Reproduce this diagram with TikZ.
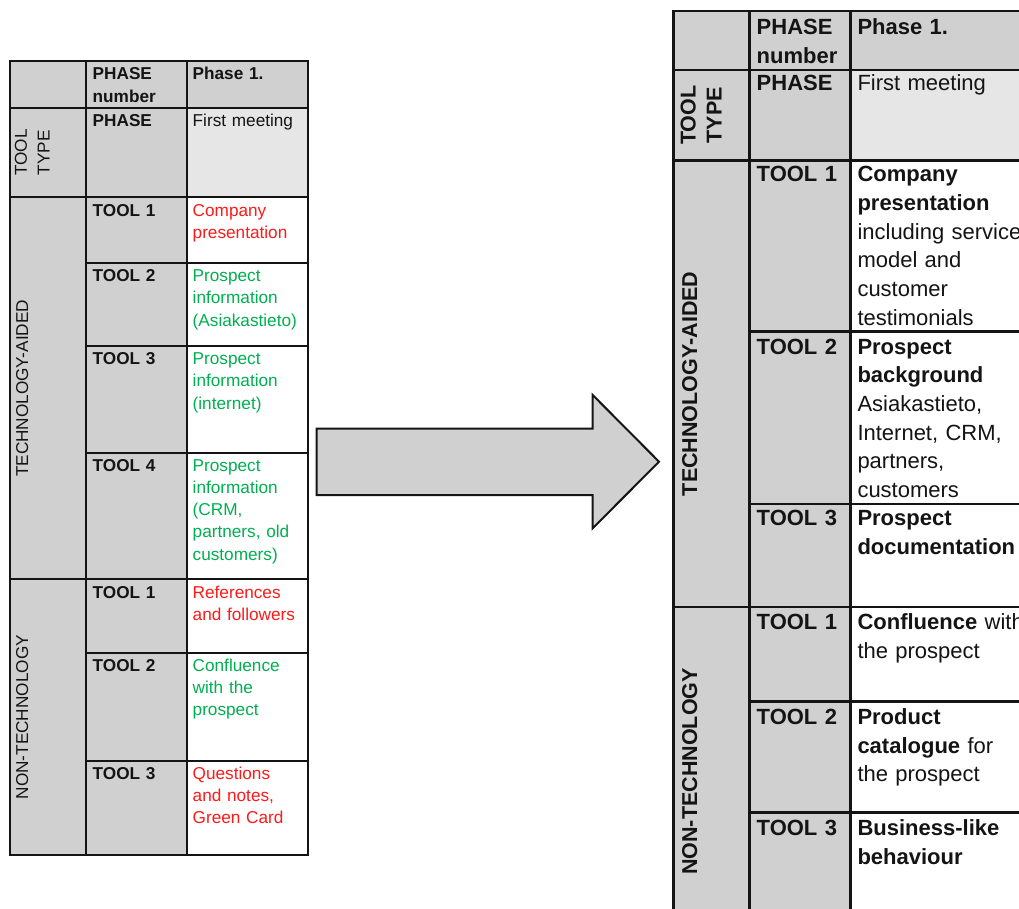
\documentclass[tikz,border=0pt]{standalone}
\usepackage{fontspec}
\setmainfont{Liberation Sans}
\definecolor{cellgray}{HTML}{D0D0D0}
\definecolor{phasegray}{HTML}{E6E6E6}
\definecolor{txtred}{HTML}{FF1A1A}
\definecolor{txtgreen}{HTML}{00B050}
\definecolor{ink}{HTML}{141414}

\begin{document}
\begin{tikzpicture}[x=1pt,y=-1pt,
  smallrule/.style={draw=ink, line width=2pt},
  bigrule/.style={draw=ink, line width=2.6pt},
  smalltxt/.style={anchor=base west, inner sep=0pt, text width=300pt, align=left,
    text=ink, font=\fontsize{17.2}{22.3}\selectfont},
  bigtxt/.style={anchor=base west, inner sep=0pt, text width=300pt, align=left,
    text=ink, font=\fontsize{22}{28.7}\selectfont},
  smallside/.style={rotate=90, anchor=base, inner sep=0pt, text width=250pt, align=center,
    text=ink, font=\fontsize{17.2}{22.7}\selectfont},
  bigside/.style={rotate=90, anchor=base, inner sep=0pt, text width=300pt, align=center,
    text=ink, font=\bfseries\fontsize{21.5}{26}\selectfont},
  red/.style={text=txtred},
  green/.style={text=txtgreen},
  blockarrow/.style={draw=ink, line width=2pt, fill=cellgray, line join=miter}
]
\useasboundingbox (0,0) rectangle (1019,909);
\clip (0,0) rectangle (1019,909);

% ---------- small table ----------
\fill[cellgray] (10,61) rectangle (307.5,855);
\fill[phasegray] (187,108) rectangle (307.5,197.5);
\fill[white] (187,197.5) rectangle (307.5,855);
\draw[smallrule] (10,61) rectangle (307.5,855);
\draw[smallrule] (86,61) -- (86,855);
\draw[smallrule] (187,61) -- (187,855);
\draw[smallrule] (10,108) -- (307.5,108);
\draw[smallrule] (10,197.5) -- (307.5,197.5);
\draw[smallrule] (86,263) -- (307.5,263);
\draw[smallrule] (86,346) -- (307.5,346);
\draw[smallrule] (86,452.5) -- (307.5,452.5);
\draw[smallrule] (10,579.3) -- (307.5,579.3);
\draw[smallrule] (86,652.7) -- (307.5,652.7);
\draw[smallrule] (86,760.5) -- (307.5,760.5);

\node[smalltxt, font=\bfseries\fontsize{17.2}{22.3}\selectfont] (sPhaseNo) at (92.5,80) {PHASE\\number};
\node[smalltxt, font=\bfseries\fontsize{17.2}{22.3}\selectfont] (sPhaseOne) at (192.5,80) {Phase 1.};
\node[smalltxt, font=\bfseries\fontsize{17.2}{22.3}\selectfont] (sPhase) at (92.5,126.5) {PHASE};
\node[smalltxt] (sMeeting) at (192.5,126.5) {First meeting};

\node[smallside] (sToolType) at (27,152.7) {TOOL\\TYPE};
\node[smallside] (sTech) at (28,388.4) {TECHNOLOGY-AIDED};
\node[smallside] (sNonTech) at (28,717.2) {NON-TECHNOLOGY};

\node[smalltxt, font=\bfseries\fontsize{17.2}{22.3}\selectfont] (sT1) at (92.5,216.5) {TOOL 1};
\node[smalltxt, font=\bfseries\fontsize{17.2}{22.3}\selectfont] (sT2) at (92.5,281.5) {TOOL 2};
\node[smalltxt, font=\bfseries\fontsize{17.2}{22.3}\selectfont] (sT3) at (92.5,364.5) {TOOL 3};
\node[smalltxt, font=\bfseries\fontsize{17.2}{22.3}\selectfont] (sT4) at (92.5,471) {TOOL 4};
\node[smalltxt, font=\bfseries\fontsize{17.2}{22.3}\selectfont] (sN1) at (92.5,598) {TOOL 1};
\node[smalltxt, font=\bfseries\fontsize{17.2}{22.3}\selectfont] (sN2) at (92.5,671) {TOOL 2};
\node[smalltxt, font=\bfseries\fontsize{17.2}{22.3}\selectfont] (sN3) at (92.5,779) {TOOL 3};

\node[smalltxt, red] (sT1txt) at (192.5,216.5) {Company\\presentation};
\node[smalltxt, green] (sT2txt) at (192.5,281.5) {Prospect\\information\\(Asiakastieto)};
\node[smalltxt, green] (sT3txt) at (192.5,364.5) {Prospect\\information\\(internet)};
\node[smalltxt, green] (sT4txt) at (192.5,471) {Prospect\\information\\(CRM,\\partners, old\\customers)};
\node[smalltxt, red] (sN1txt) at (192.5,598) {References\\and followers};
\node[smalltxt, green] (sN2txt) at (192.5,671) {Confluence\\with the\\prospect};
\node[smalltxt, red] (sN3txt) at (192.5,779) {Questions\\and notes,\\Green Card};

% ---------- block arrow ----------
\draw[blockarrow] (316.7,428.7) -- (592.7,428.7) -- (592.7,395) -- (659,461.7)
  -- (592.7,528.3) -- (592.7,495) -- (316.7,495) -- cycle;

% ---------- large table ----------
\fill[cellgray] (673.3,11) rectangle (1120,936);
\fill[phasegray] (850.7,70) rectangle (1120,160.7);
\fill[white] (850.7,160.7) rectangle (1120,936);
\draw[bigrule] (673.3,11) rectangle (1120,936);
\draw[bigrule] (749.3,11) -- (749.3,936);
\draw[bigrule] (850.7,11) -- (850.7,936);
\draw[bigrule] (673.3,70) -- (1120,70);
\draw[bigrule] (673.3,160.7) -- (1120,160.7);
\draw[bigrule] (749.3,331.7) -- (1120,331.7);
\draw[bigrule] (749.3,504) -- (1120,504);
\draw[bigrule] (673.3,607) -- (1120,607);
\draw[bigrule] (749.3,701.7) -- (1120,701.7);
\draw[bigrule] (749.3,812.3) -- (1120,812.3);

\node[bigtxt, font=\bfseries\fontsize{22}{29}\selectfont] (bPhaseNo) at (756.5,34.3) {PHASE\\number};
\node[bigtxt, font=\bfseries\fontsize{22}{29}\selectfont] (bPhaseOne) at (857.3,34.3) {Phase 1.};
\node[bigtxt, font=\bfseries\fontsize{22}{29}\selectfont] (bPhase) at (756.5,91) {PHASE};
\node[bigtxt] (bMeeting) at (857.3,91) {First meeting};

\node[bigside] (bToolType) at (695.7,115.3) {TOOL\\TYPE};
\node[bigside] (bTech) at (697,383.8) {TECHNOLOGY-AIDED};
\node[bigside] (bNonTech) at (697,771.5) {NON-TECHNOLOGY};

\node[bigtxt, font=\bfseries\fontsize{22}{28.7}\selectfont] (bT1) at (756.5,181.7) {TOOL 1};
\node[bigtxt, font=\bfseries\fontsize{22}{28.7}\selectfont] (bT2) at (756.5,354) {TOOL 2};
\node[bigtxt, font=\bfseries\fontsize{22}{28.7}\selectfont] (bT3) at (756.5,525.5) {TOOL 3};
\node[bigtxt, font=\bfseries\fontsize{22}{28.7}\selectfont] (bN1) at (756.5,629.5) {TOOL 1};
\node[bigtxt, font=\bfseries\fontsize{22}{28.7}\selectfont] (bN2) at (756.5,724.5) {TOOL 2};
\node[bigtxt, font=\bfseries\fontsize{22}{28.7}\selectfont] (bN3) at (756.5,835.5) {TOOL 3};

\node[bigtxt] (bT1txt) at (857.3,181.7)
  {\textbf{Company}\\\textbf{presentation}\\including service\\model and\\customer\\testimonials};
\node[bigtxt] (bT2txt) at (857.3,354)
  {\textbf{Prospect}\\\textbf{background}\\Asiakastieto,\\Internet, CRM,\\partners,\\customers};
\node[bigtxt] (bT3txt) at (857.3,525.5) {\textbf{Prospect}\\\textbf{documentation}};
\node[bigtxt] (bN1txt) at (857.3,629.5) {\textbf{Confluence} with\\the prospect};
\node[bigtxt] (bN2txt) at (857.3,724.5) {\textbf{Product}\\\textbf{catalogue} for\\the prospect};
\node[bigtxt] (bN3txt) at (857.3,835.5) {\textbf{Business-like}\\\textbf{behaviour}};
\end{tikzpicture}
\end{document}
